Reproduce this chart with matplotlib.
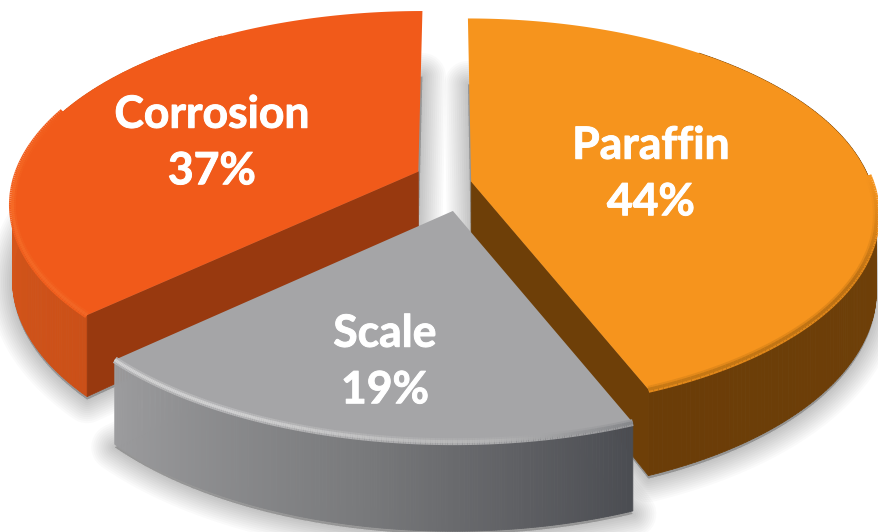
#!/usr/bin/env python3
"""Exploded 3D-look pie of failure causes, built from flat polygons."""

import numpy as np
import matplotlib

matplotlib.use("Agg")
import matplotlib.pyplot as plt
import matplotlib.patheffects as pe
from matplotlib.collections import LineCollection, PolyCollection
from matplotlib.colors import to_rgb
from matplotlib.patches import Polygon

labels = ["Paraffin", "Scale", "Corrosion"]
values = [44, 19, 37]

# style per slice, same order as labels
top_colors = ["#f6941d", "#a5a5a7", "#f15a1a"]
face_colors = ["#6e3f08", "#6a6b6e", "#98390f"]
rim_stops = [
    [(60, "#80490a"), (110, "#6e3f08"), (158, "#6b3d08")],
    [(158, "#4a4c51"), (172, "#5e5f63"), (190, "#78797b"), (227, "#9c9c9e")],
    [(227, "#cb5018"), (270, "#d6561b"), (300, "#de591b")],
]
edge_stops = [
    [(88, "#f6941d"), (118, "#a86410"), (158, "#b87012")],
    [(158, "#7a7c80"), (175, "#b8b8b8"), (205, "#dedede"), (227, "#e2e2e2")],
    [(227, "#f26a28"), (262, "#f8702a"), (290, "#f15a1a")],
]
offsets = [(0.058, -0.02), (0.012, -0.175), (-0.075, 0.035)]
radii = [(1.0, 1.03), (1.01, 1.0), (1.01, 1.03)]
label_xy = [(651, 174), (385, 362), (212, 143)]

CX, CY = 448, 178
RX, RY = 398, 183
PERSP = 0.157
HEIGHT = 73


def project(u, v, drop=0.0):
    s = 1.0 / (1.0 + PERSP * v)
    return CX + RX * u * s, CY - RY * v * s + drop * s


def arc(theta_deg, offset, radius, drop=0.0):
    t = np.radians(theta_deg)
    x, y = project(radius[0] * np.sin(t) + offset[0], radius[1] * np.cos(t) + offset[1], drop)
    return np.column_stack([x, y])


def stop_colors(stops, thetas):
    pos = [p for p, _ in stops]
    rgb = np.array([to_rgb(c) for _, c in stops])
    return np.column_stack([np.interp(thetas, pos, rgb[:, i]) for i in range(3)])


fig = plt.figure(figsize=(8.79, 5.32), dpi=100)
ax = fig.add_axes([0, 0, 1, 1])
ax.set_xlim(0, 879)
ax.set_ylim(532, 0)
ax.axis("off")

ends = np.cumsum(values) / np.sum(values) * 360.0
starts = np.concatenate([[0.0], ends[:-1]])
thetas = [np.linspace(a, b, 240) for a, b in zip(starts, ends)]

# soft shadows below everything, from the lower outline of each slice
for theta, off, rad in zip(thetas, offsets, radii):
    apex = np.array(project(off[0], off[1], HEIGHT))
    outline = np.vstack([apex, arc(theta, off, rad, HEIGHT)])
    for lw in np.linspace(34, 2, 12):
        ax.add_patch(Polygon(outline + [0, 3], closed=True, fc="#000000", ec="#000000", lw=lw,
                             alpha=0.018, joinstyle="round", zorder=1))

# corrosion first, then paraffin, scale sits in front of both
for z, i in enumerate([2, 0, 1]):
    theta, off, rad = thetas[i], offsets[i], radii[i]
    base = 2 + z * 5
    apex_top = np.array(project(off[0], off[1]))
    apex_low = np.array(project(off[0], off[1], HEIGHT))
    upper = arc(theta, off, rad)
    lower = arc(theta, off, rad, HEIGHT)

    # rim, one small quad per arc step, the back part stays hidden
    keep = [k for k in range(len(theta) - 1) if 40 < theta[k] < 325]
    quads = [[upper[k], upper[k + 1], lower[k + 1], lower[k]] for k in keep]
    rim = stop_colors(rim_stops[i], theta[keep])
    ax.add_collection(PolyCollection(quads, facecolors=rim, edgecolors=rim, linewidths=0.6, zorder=base))

    # the cut faces that look at the viewer
    cut = None
    if labels[i] == "Paraffin":
        cut = [apex_top, upper[-1], lower[-1], apex_low]
    elif labels[i] == "Corrosion":
        cut = [apex_top, upper[0], lower[0], apex_low]
    if cut is not None:
        ax.add_patch(Polygon(cut, closed=True, fc=face_colors[i], ec=face_colors[i], lw=0.5, zorder=base + 1))

    ax.add_patch(Polygon(np.vstack([apex_top, upper]), closed=True, fc=top_colors[i], ec="none", zorder=base + 2))

    # bevel along the front of the top face, blended by hand so strokes do not stack
    front = (theta > 88) & (theta < 290)
    pts = upper[front]
    segs = np.stack([pts[:-1], pts[1:]], axis=1)
    cols = stop_colors(edge_stops[i], theta[front][:-1])
    top_rgb = np.array(to_rgb(top_colors[i]))
    for lw, mix in [(5.0, 0.3), (2.2, 0.75)]:
        ax.add_collection(LineCollection(segs, colors=top_rgb + (cols - top_rgb) * mix, linewidths=lw,
                                         capstyle="butt", zorder=base + 3))

plt.rcParams["font.family"] = ["Lato", "DejaVu Sans"]
for name, value, (x, y) in zip(labels, values, label_xy):
    ax.text(x, y, f"{name}\n{value}%", color="white", fontsize=32, fontweight="bold",
            ha="center", va="center", linespacing=1.5, zorder=30,
            path_effects=[pe.withStroke(linewidth=0.7, foreground="white")])

fig.savefig("out.png", dpi=100)
